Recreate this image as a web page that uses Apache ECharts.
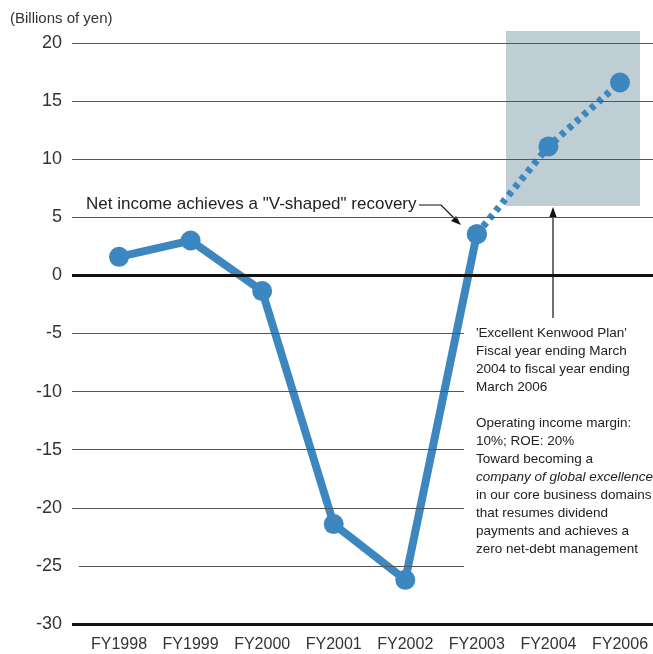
<!DOCTYPE html>
<html lang="en">
  <head>
    <meta charset="UTF-8" />
    <title>Consolidated Net Income</title>
    <script src="https://cdn.jsdelivr.net/npm/echarts@6/dist/echarts.min.js"></script>
    <style>
      html, body { margin: 0; padding: 0; background: #fff; }
    </style>
  </head>
  <body>
    <div id="main" style="width: 653px; height: 654px;"></div>
    <script type="text/javascript">
      // data (billions of yen)
      var categories = ["FY1998", "FY1999", "FY2000", "FY2001", "FY2002", "FY2003", "FY2004", "FY2006"];
      var actualValues = [1.6, 3.0, -1.35, -21.4, -26.2, 3.55];   // FY1998 - FY2003
      var planValues = [3.55, 11.1, 16.6];                         // FY2003 - FY2006 (plan)
      var yTicks = [-30, -25, -20, -15, -10, -5, 0, 5, 10, 15, 20];
      // plan period box: [x from, x to, y bottom, y top]
      var planBox = [[5.407, 7.28, 5.97, 21.03]];

      var blue = "#3d87c0";
      var xMin = -0.657, xMax = 7.461;

      function toPoints(values, start) {
        return values.map(function (v, i) { return [start + i, v]; });
      }

      // horizontal rules, some stop short where the note text sits
      function ruleFor(y) {
        var x0 = xMin, x1 = xMax, w = 1.1, c = "#555";
        if (y === 0 || y === -30) { w = 3; c = "#111"; }
        if (y < 0 && y > -30) x1 = 4.82;
        if (y === -25) x0 = -0.56;
        return [
          { coord: [x0, y], lineStyle: { width: w, color: c, type: "solid" } },
          { coord: [x1, y] }
        ];
      }

      var myChart = echarts.init(document.getElementById("main"));

      var option = {
        animation: false,
        grid: { left: 72, right: 0, top: 43, bottom: 30 },
        xAxis: {
          type: "value",
          min: xMin,
          max: xMax,
          axisLine: { show: false },
          axisTick: { show: false },
          splitLine: { show: false },
          axisLabel: {
            customValues: categories.map(function (c, i) { return i; }),
            formatter: function (v) { return categories[Math.round(v)] || ""; },
            fontFamily: "Liberation Sans",
            fontSize: 16,
            color: "#333",
            margin: 13
          }
        },
        yAxis: {
          type: "value",
          min: -30,
          max: 20,
          interval: 5,
          axisLine: { show: false },
          axisTick: { show: false },
          splitLine: { show: false },
          axisLabel: {
            fontFamily: "Liberation Sans",
            fontSize: 18,
            color: "#333",
            margin: 10
          }
        },
        series: [
          {
            // plan period box
            type: "custom",
            clip: false,
            silent: true,
            z: 0,
            data: planBox,
            renderItem: function (params, api) {
              var p0 = api.coord([api.value(0), api.value(3)]);
              var p1 = api.coord([api.value(1), api.value(2)]);
              return {
                type: "rect",
                shape: { x: p0[0], y: p0[1], width: p1[0] - p0[0], height: p1[1] - p0[1] },
                style: { fill: "#bfcdd4" }
              };
            }
          },
          {
            // grid rules
            type: "line",
            data: [],
            z: 1,
            markLine: {
              silent: true,
              symbol: ["none", "none"],
              label: { show: false },
              data: yTicks.map(ruleFor)
            }
          },
          {
            name: "Plan",
            type: "line",
            z: 3,
            data: toPoints(planValues, 5),
            symbol: "circle",
            symbolSize: 20,
            itemStyle: { color: blue },
            lineStyle: { color: blue, width: 7, type: [5, 5] }
          },
          {
            name: "Net income",
            type: "line",
            z: 4,
            data: toPoints(actualValues, 0),
            symbol: "circle",
            symbolSize: 20,
            itemStyle: { color: blue },
            lineStyle: { color: blue, width: 8 }
          }
        ],
        graphic: [
          {
            type: "text",
            left: 10,
            top: -19,
            style: { text: "Consolidated Net Income", fontFamily: "Liberation Sans", fontSize: 22, fill: "#aaa" }
          },
          {
            type: "text",
            left: 10,
            top: 11,
            style: { text: "(Billions of yen)", fontFamily: "Liberation Sans", fontSize: 15, fill: "#333" }
          },
          {
            type: "text",
            left: 86,
            top: 196,
            style: {
              text: 'Net income achieves a "V-shaped" recovery',
              fontFamily: "Liberation Sans",
              fontSize: 17,
              fill: "#222"
            }
          },
          {
            type: "polyline",
            shape: { points: [[419, 205], [441, 205], [456, 220]] },
            style: { stroke: "#111", lineWidth: 1.2, fill: null }
          },
          {
            type: "polygon",
            shape: { points: [[461, 225], [451, 221], [456, 216]] },
            style: { fill: "#111" }
          },
          {
            type: "line",
            shape: { x1: 553, y1: 318, x2: 553, y2: 214 },
            style: { stroke: "#111", lineWidth: 1.2 }
          },
          {
            type: "polygon",
            shape: { points: [[553, 207], [549, 218], [557, 218]] },
            style: { fill: "#111" }
          },
          {
            type: "text",
            left: 476,
            top: 324,
            style: {
              text: "'Excellent Kenwood Plan'\nFiscal year ending March\n2004 to fiscal year ending\nMarch 2006\n\nOperating income margin:\n10%; ROE: 20%\nToward becoming a\n{i|company of global excellence}\nin our core business domains\nthat resumes dividend\npayments and achieves a\nzero net-debt management",
              fontFamily: "Liberation Sans",
              fontSize: 13.5,
              lineHeight: 18,
              fill: "#222",
              rich: {
                i: { fontStyle: "italic", fontFamily: "Liberation Sans", fontSize: 13.5, lineHeight: 18, fill: "#222" }
              }
            }
          }
        ]
      };

      myChart.setOption(option);
    </script>
  </body>
</html>
